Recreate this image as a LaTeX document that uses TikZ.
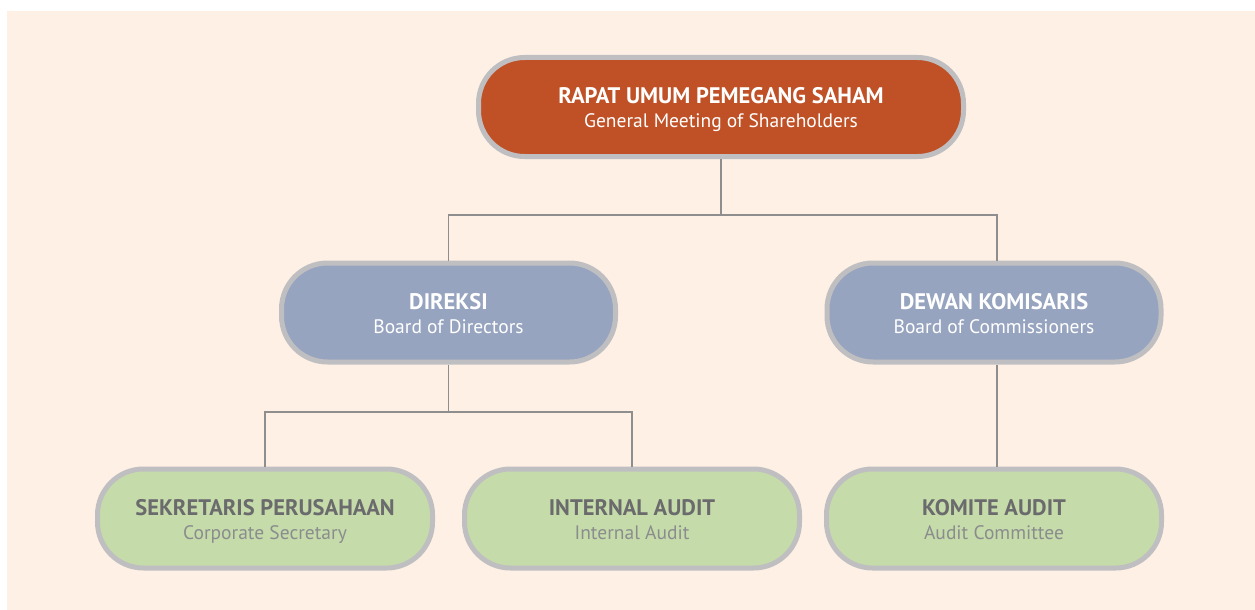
\documentclass[tikz,border=0pt]{standalone}
\usepackage{fontspec}
\setmainfont{PT Sans}
\definecolor{bgpeach}{HTML}{FEF0E4}
\definecolor{rimgray}{HTML}{BFBFC1}
\definecolor{rust}{HTML}{C05127}
\definecolor{slate}{HTML}{97A4BF}
\definecolor{sage}{HTML}{C5DCAA}
\definecolor{darktxt}{HTML}{6B6B6D}
\definecolor{lighttxt}{HTML}{8B8C8E}
\definecolor{linegray}{HTML}{8E8E8E}
\begin{document}
\begin{tikzpicture}[x=1pt,y=-1pt,
  pill/.style={draw=rimgray, line width=5pt, rounded corners=46pt, minimum height=99pt, inner sep=0pt},
  toppill/.style={pill, fill=rust, minimum width=485pt},
  midpill/.style={pill, fill=slate, minimum width=334pt},
  lowpill/.style={pill, fill=sage, minimum width=335pt},
  headw/.style={anchor=base, font=\fontsize{22.5}{26}\selectfont\bfseries, text=white, inner sep=0pt},
  subw/.style={anchor=base, font=\fontsize{19.5}{23}\selectfont, text=white, inner sep=0pt},
  headd/.style={anchor=base, font=\fontsize{22.5}{26}\selectfont\bfseries, text=darktxt, inner sep=0pt},
  subd/.style={anchor=base, font=\fontsize{19.5}{23}\selectfont, text=lighttxt, inner sep=0pt},
  conn/.style={draw=linegray, line width=1.3pt}]
\useasboundingbox (0,0) rectangle (1255,610);
\fill[bgpeach] (7,11) rectangle (1255,610);

% boxes
\node[toppill] (rups) at (721,107) {};
\node[midpill] (dir) at (448.5,312.5) {};
\node[midpill] (dek) at (994,312.5) {};
\node[lowpill] (sek) at (265,518.5) {};
\node[lowpill] (ia) at (632,518.5) {};
\node[lowpill] (ka) at (994,518.5) {};

% connectors
\coordinate (j1) at (721,215);
\coordinate (j2) at (448.5,412);
\draw[conn] (rups.south) -- (j1);
\draw[conn] (dir.north) |- (j1) -| ([xshift=3pt]dek.north);
\draw[conn] (dir.south) -- (j2);
\draw[conn] (sek.north) |- (j2) -| (ia.north);
\draw[conn] ([xshift=3pt]dek.south) -- ([xshift=3pt]ka.north);

% texts
\node[headw] (t1) at ([yshift=4pt]rups.center) {RAPAT UMUM PEMEGANG SAHAM};
\node[subw] (s1) at ([yshift=-20pt]rups.center) {General Meeting of Shareholders};
\node[headw] (t2) at ([yshift=3.5pt]dir.center) {DIREKSI};
\node[subw] (s2) at ([yshift=-20.5pt]dir.center) {Board of Directors};
\node[headw] (t3) at ([yshift=3.5pt]dek.center) {DEWAN KOMISARIS};
\node[subw] (s3) at ([yshift=-20.5pt]dek.center) {Board of Commissioners};
\node[headd] (t4) at ([yshift=3.5pt]sek.center) {SEKRETARIS PERUSAHAAN};
\node[subd] (s4) at ([yshift=-20.5pt]sek.center) {Corporate Secretary};
\node[headd] (t5) at ([yshift=3.5pt]ia.center) {INTERNAL AUDIT};
\node[subd] (s5) at ([yshift=-20.5pt]ia.center) {Internal Audit};
\node[headd] (t6) at ([yshift=3.5pt]ka.center) {KOMITE AUDIT};
\node[subd] (s6) at ([yshift=-20.5pt]ka.center) {Audit Committee};
\end{tikzpicture}
\end{document}
